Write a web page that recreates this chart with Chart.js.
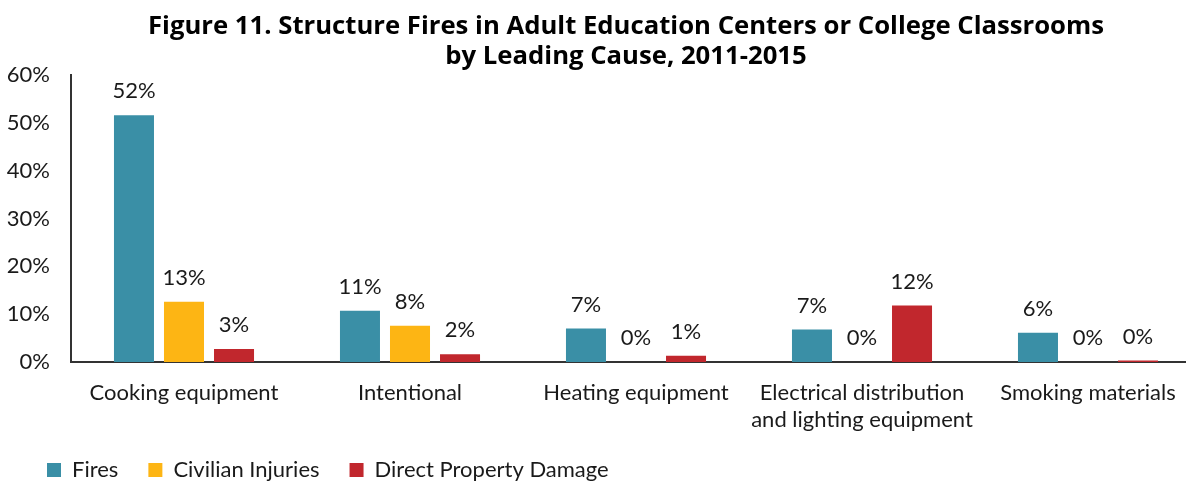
<!DOCTYPE html>
<html>
<head>
<meta charset="utf-8">
<script src="https://cdn.jsdelivr.net/npm/chart.js@4/dist/chart.umd.min.js"></script>
<style>
html, body { margin: 0; padding: 0; overflow: hidden; background: #fff; }
#wrap { width: 1247px; height: 481px; }
</style>
</head>
<body>
<div id="wrap"><canvas id="c" width="1247" height="481"></canvas></div>
<script>
const categories = [
  "Cooking equipment",
  "Intentional",
  "Heating equipment",
  ["Electrical distribution", "and lighting equipment"],
  "Smoking materials"
];
const fires = [51.6, 10.7, 7.0, 6.8, 6.1];
const civilianInjuries = [12.6, 7.6, 0, 0, 0];
const propertyDamage = [2.7, 1.6, 1.3, 11.8, 0.3];
const yTicks = [0, 10, 20, 30, 40, 50, 60];

const FONT = "Lato, 'Open Sans', sans-serif";
const TEXT = "#1a1a1a";

const valueLabels = {
  id: 'valueLabels',
  afterDatasetsDraw(chart) {
    const ctx = chart.ctx;
    ctx.save();
    ctx.font = "22px " + FONT;
    ctx.fillStyle = TEXT;
    ctx.textAlign = 'center';
    ctx.textBaseline = 'middle';
    chart.data.datasets.forEach((ds, i) => {
      const meta = chart.getDatasetMeta(i);
      meta.data.forEach((el, j) => {
        ctx.fillText(Math.round(ds.data[j]) + '%', el.x, el.y - 24);
      });
    });
    ctx.restore();
  }
};

const legendShift = {
  id: 'legendShift',
  beforeDraw(chart) {
    if (chart.legend) {
      chart.legend.left = 17;
      chart.legend.top = 429;
    }
  }
};

new Chart(document.getElementById('c'), {
  type: 'bar',
  data: {
    labels: categories,
    datasets: [
      { label: 'Fires', data: fires, backgroundColor: '#3A8FA6' },
      { label: 'Civilian Injuries', data: civilianInjuries, backgroundColor: '#FDB514' },
      { label: 'Direct Property Damage', data: propertyDamage, backgroundColor: '#C1272D' }
    ]
  },
  options: {
    responsive: false,
    animation: false,
    layout: { padding: { left: 5, right: 0, top: 0, bottom: -20 } },
    datasets: { bar: { categoryPercentage: 0.664, barPercentage: 0.8 } },
    plugins: {
      title: {
        display: true,
        text: ["Figure 11. Structure Fires in Adult Education Centers or College Classrooms", "by Leading Cause, 2011-2015"],
        font: { family: "'Open Sans', Lato, sans-serif", size: 25.7, weight: 'bold', lineHeight: 1.17 },
        color: '#000',
        padding: { top: 12, bottom: 3 }
      },
      legend: {
        display: true,
        position: 'bottom',
        align: 'start',
        labels: {
          boxWidth: 14, boxHeight: 14, padding: 30,
          font: { family: FONT, size: 22 },
          color: TEXT
        }
      },
      tooltip: { enabled: false }
    },
    scales: {
      x: {
        afterFit: s => { s.height = 77; },
        grid: { display: false, drawTicks: false },
        border: { display: true, color: '#333', width: 2 },
        ticks: { font: { family: FONT, size: 22, lineHeight: 1.25 }, color: TEXT, padding: 17, maxRotation: 0, autoSkip: false }
      },
      y: {
        min: 0, max: 60,
        afterBuildTicks: s => { s.ticks = yTicks.map(v => ({ value: v })); },
        afterFit: s => { s.width = 66; },
        grid: { display: false, drawTicks: false },
        border: { display: true, color: '#333', width: 2 },
        ticks: { font: { family: FONT, size: 22 }, color: TEXT, padding: 21, callback: v => v + '%' }
      },
      y2: {
        position: 'right',
        display: true,
        grid: { display: false, drawTicks: false },
        border: { display: false },
        ticks: { display: false },
        afterFit: s => { s.width = 46; }
      }
    }
  },
  plugins: [valueLabels, legendShift]
});
</script>
</body>
</html>
